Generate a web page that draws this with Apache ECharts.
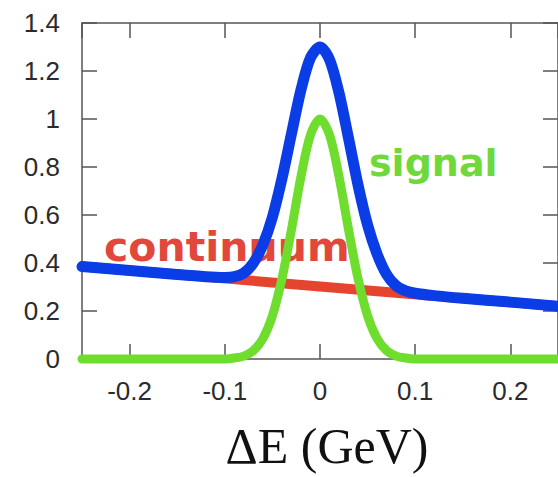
<!DOCTYPE html>
<html><head><meta charset="utf-8">
<script src="https://cdn.jsdelivr.net/npm/echarts@6/dist/echarts.min.js"></script>
<style>html,body{margin:0;padding:0;background:#fff}#c{width:558px;height:477px}</style>
</head><body><div id="c"></div>
<script>
// ΔE sample positions (GeV)
const deltaE = [-0.25,-0.2,-0.15,-0.12,-0.1,-0.09,-0.08,-0.07,-0.06,-0.05,-0.04,-0.03,-0.02,-0.01,0,0.01,0.02,0.03,0.04,0.05,0.06,0.07,0.08,0.09,0.1,0.12,0.15,0.2,0.25];
// blue curve: total (signal + continuum)
const totalFit = [0.385,0.369,0.352,0.343,0.340,0.343,0.358,0.400,0.476,0.591,0.751,0.938,1.121,1.255,1.30,1.248,1.108,0.919,0.724,0.558,0.437,0.352,0.305,0.284,0.274,0.264,0.253,0.237,0.220];
// green curve: signal
const signalFit = [0,0,0,0,0,0.004,0.012,0.035,0.085,0.180,0.334,0.539,0.760,0.934,1.0,0.934,0.760,0.539,0.334,0.180,0.085,0.035,0.012,0.004,0,0,0,0,0];
// red line: continuum
const continuumX = [-0.25, 0, 0.25];
const continuumY = [0.385, 0.3025, 0.22];
const labelContinuum = 'continuum';
const labelSignal = 'signal';
const xTitle = 'ΔE (GeV)';

const axisColor = '#555';
const pair = (xs, ys) => xs.map((x, i) => [x, ys[i]]);

const chart = echarts.init(document.getElementById('c'), null, {renderer: 'svg'});
const xBase = {
  type: 'value', min: -0.25, max: 0.25, splitNumber: 5,
  axisLine: {show: true, onZero: false, lineStyle: {color: axisColor, width: 1.5}},
  axisTick: {show: true, inside: true, length: 15, lineStyle: {color: axisColor, width: 1.5}},
  splitLine: {show: false}
};
const yBase = {
  type: 'value', min: 0, max: 1.4, interval: 0.2,
  axisLine: {show: true, onZero: false, lineStyle: {color: axisColor, width: 1.5}},
  axisTick: {show: true, inside: true, length: 15, lineStyle: {color: axisColor, width: 1.5}},
  splitLine: {show: false}
};
chart.setOption({
  backgroundColor: '#fff',
  animation: false,
  grid: {left: 82, top: 23, width: 483, height: 336},
  xAxis: [
    Object.assign({}, xBase, {
      position: 'bottom',
      axisLabel: {showMinLabel: false, showMaxLabel: false, color: '#2b2b2b', fontSize: 26, fontFamily: 'Liberation Sans', margin: 19},
      name: xTitle, nameLocation: 'middle', nameGap: 62,
      nameTextStyle: {fontFamily: 'Liberation Serif', fontSize: 50, color: '#111', padding: [0, 0, 0, 14]}
    }),
    Object.assign({}, xBase, {position: 'top', axisLabel: {show: false}})
  ],
  yAxis: [
    Object.assign({}, yBase, {
      position: 'left',
      axisLabel: {color: '#2b2b2b', fontSize: 26, fontFamily: 'Liberation Sans', margin: 22}
    }),
    Object.assign({}, yBase, {position: 'right', axisLabel: {show: false}})
  ],
  graphic: [
    {type: 'text', z: 1, x: 104, y: 247, style: {text: labelContinuum, fill: '#e1473a', font: 'bold 41px "DejaVu Sans"', textAlign: 'left', textVerticalAlign: 'middle'}},
    {type: 'text', z: 1, x: 369, y: 163, style: {text: labelSignal, fill: '#6fd83a', font: 'bold 38px "DejaVu Sans"', textAlign: 'left', textVerticalAlign: 'middle'}}
  ],
  series: [
    {type: 'line', data: pair(continuumX, continuumY), showSymbol: false, clip: false, z: 3,
     lineStyle: {color: '#e5442f', width: 10, cap: 'round'}},
    {type: 'line', data: pair(deltaE, totalFit), showSymbol: false, smooth: 0.3, clip: false, z: 4,
     lineStyle: {color: '#0b3de6', width: 11, cap: 'round', join: 'round'}},
    {type: 'line', data: pair(deltaE, signalFit), showSymbol: false, smooth: 0.3, clip: false, z: 5,
     lineStyle: {color: '#6edd2e', width: 9, cap: 'round', join: 'round'}}
  ]
});
</script></body></html>
